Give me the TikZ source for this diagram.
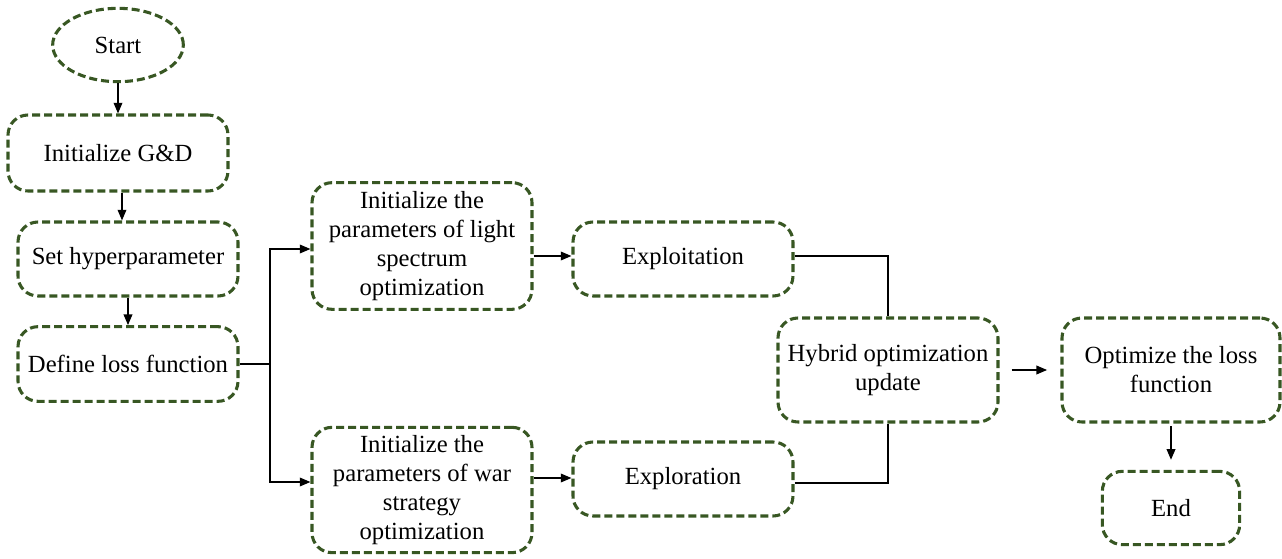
\documentclass[tikz,border=0pt]{standalone}
\usetikzlibrary{shapes.geometric,arrows.meta}
\usepackage{fontspec}
\setmainfont{Liberation Serif}
\newfontfamily\tnr{Liberation Serif}
\definecolor{dkgreen}{RGB}{56,87,35}
\tikzset{
  box/.style={draw=dkgreen, line width=2.3pt, dash pattern=on 6pt off 3pt,
    rounded corners=15pt, align=center, inner sep=0pt,
    font=\tnr\fontsize{18.5}{21.8}\selectfont},
  oval/.style={ellipse, draw=dkgreen, line width=2.3pt, dash pattern=on 6pt off 3pt,
    inner sep=0pt, font=\tnr\fontsize{18.5}{21.8}\selectfont},
  arr/.style={-{Triangle[length=8pt,width=6.5pt]}, line width=1.1pt, black},
  ln/.style={line width=1.1pt, black}
}
\begin{document}
\begin{tikzpicture}[x=0.75pt,y=-0.75pt]
\useasboundingbox (0,0) rectangle (1282,559);
\node[oval, minimum width=98pt, minimum height=55pt] (start) at (118,45) {\tnr Start};
\node[box, minimum width=165pt, minimum height=57pt] (init) at (118,153) {\tnr Initialize G\&D};
\node[box, minimum width=165pt, minimum height=55.5pt] (hyper) at (128,259) {\tnr Set hyperparameter};
\node[box, minimum width=165pt, minimum height=56pt] (loss) at (128,364) {\tnr Define loss function};
\node[box, minimum width=165pt, minimum height=95pt] (lso) at (422,246) {\tnr Initialize the\\\tnr parameters of light\\\tnr spectrum\\\tnr optimization};
\node[box, minimum width=165pt, minimum height=94pt] (wso) at (422,490) {\tnr Initialize the\\\tnr parameters of war\\\tnr strategy\\\tnr optimization};
\node[box, minimum width=165pt, minimum height=55.5pt] (exploit) at (683,259) {\tnr Exploitation};
\node[box, minimum width=165pt, minimum height=55.5pt] (explore) at (683,479) {\tnr Exploration};
\node[box, minimum width=165pt, minimum height=78pt] (hybrid) at (888,370) {\tnr Hybrid optimization\\\tnr update};
\node[box, minimum width=163.5pt, minimum height=78pt] (opt) at (1171,370) {\tnr Optimize the loss\\\tnr function};
\node[box, minimum width=103pt, minimum height=55pt] (end) at (1171,508) {\tnr End};
\coordinate (br) at (270,364);

\draw[arr] (start) -- (init);
\draw[arr] (init.south -| 122,0) -- (hyper.north -| 122,0);
\draw[arr] (loss.north |- hyper.south) -- (loss.north);
\draw[ln] (loss.east) -- (br);
\draw[arr] (br) |- (lso.west |- 0,249);
\draw[arr] (br) |- (wso.west |- 0,482);
\draw[arr] (lso.east |- 0,256) -- (exploit.west |- 0,256);
\draw[arr] (wso.east |- 0,478) -- (explore.west |- 0,478);
\draw[ln] (exploit.east |- 0,256) -| (hybrid.north);
\draw[ln] (explore.east |- 0,483) -| (hybrid.south);
\draw[arr, shorten <=9pt, shorten >=10pt] (hybrid.east) -- (opt.west);
\draw[arr, shorten <=2pt, shorten >=7.5pt] (opt.south) -- (end.north);
\end{tikzpicture}
\end{document}
